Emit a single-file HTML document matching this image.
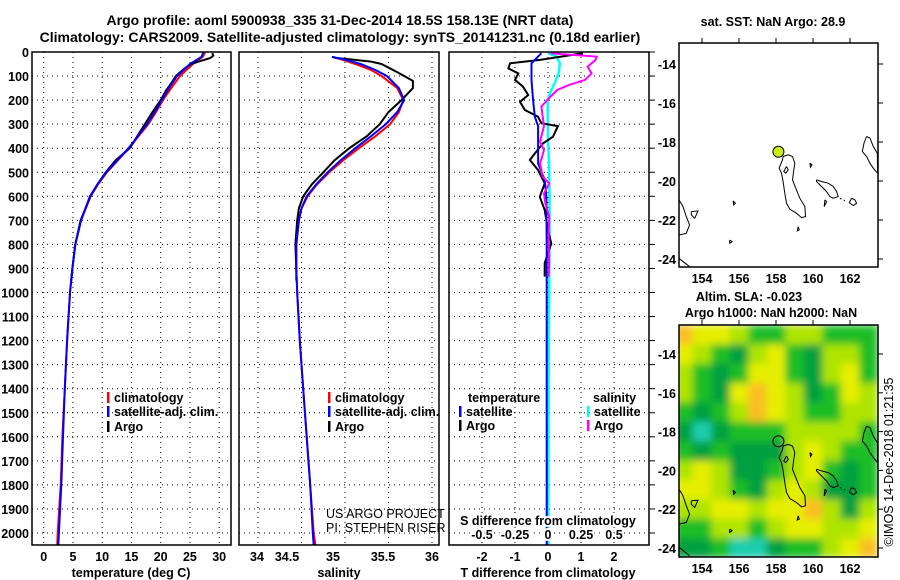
<!DOCTYPE html>
<html><head><meta charset="utf-8"><style>
body{margin:0;background:#fff;}
svg{display:block;font-family:"Liberation Sans",sans-serif;}
.t{font-weight:bold;font-size:12.5px;fill:#000;}
.g{stroke:#000;stroke-width:1;stroke-dasharray:1 4;}
</style></head><body>
<svg id="fig" width="900" height="580" viewBox="0 0 900 580">
<defs>
<clipPath id="cp1"><rect x="32" y="52" width="199" height="493"/></clipPath>
<clipPath id="cp2"><rect x="239" y="52" width="200" height="493"/></clipPath>
<clipPath id="cp3"><rect x="449" y="52" width="200" height="493"/></clipPath>
<clipPath id="cpm1"><rect x="679" y="43" width="199" height="224"/></clipPath>
<clipPath id="cpm2"><rect x="679" y="325" width="199" height="232"/></clipPath>
<filter id="blur" x="0" y="0" width="1" height="1" filterUnits="objectBoundingBox"><feGaussianBlur stdDeviation="4" edgeMode="duplicate"/></filter>
</defs>
<text class="t" x="340" y="25" text-anchor="middle" style="font-size:14px">Argo profile: aoml 5900938_335 31-Dec-2014 18.5S 158.13E (NRT data)</text>
<text class="t" x="340" y="42" text-anchor="middle" style="font-size:14px">Climatology: CARS2009. Satellite-adjusted climatology: synTS_20141231.nc (0.18d earlier)</text>
<g id="layer"></g>
</svg>
<script>
// ---- data ----
const depthTicks=[0,100,200,300,400,500,600,700,800,900,1000,1100,1200,1300,1400,1500,1600,1700,1800,1900,2000];
const tempTicks=[0,5,10,15,20,25,30];
const salTicks=[34,34.5,35,35.5,36];
const tdiffTicks=[-2,-1,0,1,2];
const sdiffTicks=[-0.5,-0.25,0,0.25,0.5];
const lonTicks=[154,156,158,160,162];
const latTicks=[-14,-16,-18,-20,-22,-24];

const climDepth=[0,20,50,100,150,200,250,300,350,400,450,500,550,600,700,800,900,1000,1200,1400,1600,1800,2000,2050];
const climT=[27.6,27.2,25.5,23.3,21.8,20.4,19.2,17.9,16.2,14.6,12.7,10.8,9.3,8.0,6.4,5.4,4.9,4.5,4.0,3.6,3.2,2.9,2.4,2.3];
const satT=[27.3,27.0,25.0,22.8,21.4,20.2,19.0,17.7,16.1,14.5,12.6,10.7,9.2,7.9,6.4,5.4,4.9,4.5,4.0,3.6,3.3,3.0,2.6,2.5];
const argoTDepth=[5,15,25,40,50,70,100,130,160,200,250,300,350,400,450,500,550,600,700,800,900,950];
const argoT=[28.8,29.0,28.5,26.5,25.2,24.0,22.6,21.8,20.9,20.0,18.6,17.3,16.0,14.7,12.3,10.6,9.2,8.0,6.3,5.4,4.9,4.7];

const salDepth=[20,30,50,75,100,150,200,250,300,350,400,450,500,550,600,650,700,800,900,1000,1200,1400,1600,1800,2000,2050];
const climS=[34.85,34.95,35.12,35.3,35.42,35.6,35.67,35.62,35.52,35.35,35.16,34.98,34.82,34.68,34.57,34.5,34.47,34.44,34.44,34.45,34.48,34.52,34.56,34.6,34.64,34.66];
const satS=[34.85,34.98,35.18,35.35,35.48,35.62,35.68,35.6,35.47,35.3,35.12,34.95,34.8,34.67,34.56,34.5,34.47,34.44,34.44,34.45,34.48,34.52,34.56,34.6,34.63,34.64];
const argoSDepth=[20,25,30,40,50,80,100,120,150,200,250,300,350,400,450,500,550,600,650,700,800,900,950];
const argoS=[34.85,34.9,35.05,35.3,35.42,35.58,35.68,35.78,35.78,35.65,35.5,35.4,35.25,35.05,34.88,34.75,34.62,34.52,34.47,34.45,34.43,34.44,34.44];

const dArgoDepth=[5,33,47,68,89,116,144,179,207,241,269,296,308,352,380,422,449,491,546,602,657,740,796,878,934];
const dArgoT=[1.06,-0.24,-1.15,-1.2,-0.9,-1.0,-0.76,-0.6,-0.85,-0.7,-0.3,-0.2,0.3,0.15,-0.15,-0.4,-0.55,-0.3,-0.1,-0.25,-0.1,0,0.1,-0.1,-0.1];
const dSatTDepth=[5,47,116,200,269,308,463,532,602,800,1200,1600,2050];
const dSatT=[-0.2,-0.5,-0.5,-0.45,-0.4,-0.3,-0.3,-0.1,-0.05,-0.04,-0.04,-0.04,-0.04];
const dSatSDepth=[5,19,47,89,130,165,200,269,366,463,602,800,1200,1600,2050];
const dSatS=[0,0.066,0.09,0.08,0.05,0.02,-0.002,-0.002,0,0.008,0.012,0.012,0.006,0.004,0.002];
const dArgoSDepth=[5,19,33,61,89,116,137,158,193,227,269,308,373,408,463,519,546,588,630,685,740,796,878,934];
const dArgoS=[0.02,0.37,0.36,0.3,0.33,0.28,0.16,0.07,0.005,-0.05,-0.04,-0.03,-0.06,-0.03,-0.06,-0.04,0.01,-0.03,-0.02,0.01,0.005,0.005,0.008,0.005];

const slaLats=[-13,-14,-15,-16,-17,-18,-19,-20,-21,-22,-23,-24];
const slaLons=[153,154,155,156,157,158,159,160,161,162,163];
const slaRows=[
[3,2,2,1,0,0,1,1,0,0,0],
[2,1,0,-1,1,2,0,-1,1,1,0],
[1,0,-1,0,2,2,0,-1,1,2,0],
[1,0,-1,2,3,2,1,-1,0,2,1],
[0,-1,0,1,3,2,1,0,0,1,1],
[-1,-2,-1,0,0,0,1,1,1,1,0],
[0,-1,0,-1,-1,-1,1,2,1,0,0],
[1,2,1,-1,-1,0,1,2,0,-1,0],
[2,2,1,0,-1,1,2,1,-1,-1,0],
[1,1,2,2,1,2,2,3,1,-1,1],
[0,0,1,1,0,1,2,2,1,1,2],
[-1,-1,0,-2,-2,-1,0,0,1,2,3]];
const argoLon=158.13, argoLat=-18.5;
const coastsRaw=[
[[430,470],[445,465],[458,470],[465,490],[462,510],[458,540],[470,570],[480,595],[495,620],[497,650],[485,653],[470,640],[450,628],[440,610],[435,580],[430,545],[425,520],[418,505],[428,480],[430,470]],
[[440,500],[445,510],[438,520],[432,515],[440,500]],
[[680,410],[690,415],[700,440],[712,460],[713,520],[700,505],[690,490],[680,470],[667,455],[672,430],[680,410]],
[[530,540],[545,545],[565,550],[580,560],[590,575],[595,590],[580,595],[570,590],[560,575],[545,560],[530,545],[530,540]],
[[555,600],[560,605],[553,620],[555,600]],[[600,595],[605,598]],[[612,600],[615,603]],
[[635,595],[645,600],[650,610],[640,617],[628,608],[635,595]],
[[510,490],[516,495],[512,502],[510,490]],[[280,603],[287,610],[282,615],[280,603]],
[[155,635],[175,633],[165,655],[155,645],[155,635]],
[[118,600],[130,620],[140,650],[150,675],[140,700],[118,705]],[[118,775],[150,800]],
[[270,720],[277,725],[270,730],[270,720]],[[475,680],[478,690],[472,693],[475,680]]];

// ---- drawing ----
const NS='http://www.w3.org/2000/svg';
const layer=document.getElementById('layer');
function el(tag,attrs,parent,txt){const e=document.createElementNS(NS,tag);for(const k in attrs)e.setAttribute(k,attrs[k]);if(txt!==undefined)e.textContent=txt;(parent||layer).appendChild(e);return e;}
const yD=d=>52+d*0.2405;
const xT=t=>43.7+t*5.85;
const xS=s=>258+(s-34)*87;
const xTd=t=>548+t*33;
const xSd=s=>548+s*132;
const mLon=lon=>702+(lon-154)*18.5;
const m1Lat=lat=>64+(-14-lat)*19.5;
const m2Lat=lat=>354+(-14-lat)*19.4;

function panel(name){
  const g=el('g',{});
  
  
  return g;
}
function hgrid(g,x0,x1){depthTicks.forEach(d=>{const l=el('line',{x1:x0,x2:x1,y1:yD(d),y2:yD(d),class:'g'},g);});}
function vgrid(g,x){const l=el('line',{x1:x,x2:x,y1:52,y2:545,class:'g'},g);}
function line(g,xs,ds,fx,color,name,clip,w){
  const pts=xs.map((v,i)=>fx(v).toFixed(1)+','+yD(ds[i]).toFixed(1)).join(' ');
  const p=el('polyline',{points:pts,fill:'none',stroke:color,'stroke-width':w||2,'clip-path':'url(#'+clip+')'},g);
  
  
}
function txt(g,x,y,s,anchor,name,extra){const t=el('text',Object.assign({x:x,y:y,class:'t','text-anchor':anchor||'start'},extra||{}),g,s);return t;}
function legendEntry(g,x,y,color,label){
  const r=el('rect',{x:x,y:y-10,width:2.5,height:11,fill:color},g);
  
  
  txt(g,x+7,y,label,'start','legend-entry');
}

const ya=el('g',{});
depthTicks.forEach(d=>txt(ya,29,yD(d)+5,String(d),'end','depth-tick-label'));

// Panel 1 temperature
const p1=panel('temperature-panel');
hgrid(p1,32,231);tempTicks.forEach(t=>{vgrid(p1,xT(t));txt(p1,xT(t),561,String(t),'middle','temp-tick-label');});
line(p1,climT,climDepth,xT,'#ff0000','temp-climatology-line','cp1');
line(p1,argoT,argoTDepth,xT,'#000000','temp-argo-line','cp1');
line(p1,satT,climDepth,xT,'#0000ff','temp-satellite-line','cp1');
el('rect',{x:32,y:52,width:199,height:493,fill:'none',stroke:'#000','stroke-width':1.5},p1);
txt(p1,131,577,'temperature (deg C)','middle','x-axis-title-temperature');
legendEntry(p1,107,402,'#ff0000','climatology');
legendEntry(p1,107,416,'#0000ff','satellite-adj. clim.');
legendEntry(p1,107,431,'#000000','Argo');

// Panel 2 salinity
const p2=panel('salinity-panel');
hgrid(p2,239,439);salTicks.forEach(s=>vgrid(p2,xS(s)));
const salLabelX=[257,287,333,383,432];
salTicks.forEach((s,i)=>txt(p2,salLabelX[i],561,String(s),'middle','salinity-tick-label'));
line(p2,climS,salDepth,xS,'#ff0000','sal-climatology-line','cp2');
line(p2,argoS,argoSDepth,xS,'#000000','sal-argo-line','cp2');
line(p2,satS,salDepth,xS,'#0000ff','sal-satellite-line','cp2');
el('rect',{x:239,y:52,width:200,height:493,fill:'none',stroke:'#000','stroke-width':1.5},p2);
txt(p2,339,577,'salinity','middle','x-axis-title-salinity');
legendEntry(p2,328,402,'#ff0000','climatology');
legendEntry(p2,328,416,'#0000ff','satellite-adj. clim.');
legendEntry(p2,328,431,'#000000','Argo');
txt(p2,326,518,'US ARGO PROJECT','start','project-credit',{style:'font-weight:normal;font-size:12.5px'});
txt(p2,326,532,'PI: STEPHEN RISER','start','pi-credit',{style:'font-weight:normal;font-size:12.5px'});

// Panel 3 differences
const p3=panel('difference-panel');
hgrid(p3,449,649);tdiffTicks.forEach(t=>vgrid(p3,xTd(t)));
line(p3,dSatS,dSatSDepth,xSd,'#00ffff','sdiff-satellite-line','cp3',2.5);
line(p3,dArgoT,dArgoDepth,xTd,'#000000','tdiff-argo-line','cp3');
line(p3,dSatT,dSatTDepth,xTd,'#0000ff','tdiff-satellite-line','cp3');
line(p3,dArgoS,dArgoSDepth,xSd,'#ff00ff','sdiff-argo-line','cp3');
el('rect',{x:449,y:52,width:200,height:493,fill:'none',stroke:'#000','stroke-width':1.5},p3);
depthTicks.forEach(d=>el('line',{x1:649,x2:655,y1:yD(d),y2:yD(d),stroke:'#000'},p3));
txt(p3,548,525,'S difference from climatology','middle','s-diff-axis-title',{stroke:'#fff','stroke-width':4,'paint-order':'stroke'});
sdiffTicks.forEach(s=>txt(p3,xSd(s),539,String(s),'middle','s-diff-tick-label',{stroke:'#fff','stroke-width':4,'paint-order':'stroke'}));
tdiffTicks.forEach(t=>txt(p3,xTd(t),561,String(t),'middle','t-diff-tick-label'));
txt(p3,548,577,'T difference from climatology','middle','t-diff-axis-title');
txt(p3,468,402,'temperature','start','legend-title-temperature');
legendEntry(p3,459,416,'#0000ff','satellite');
legendEntry(p3,459,430,'#000000','Argo');
txt(p3,593,402,'salinity','start','legend-title-salinity');
legendEntry(p3,587,416,'#00ffff','satellite');
legendEntry(p3,587,430,'#ff00ff','Argo');

// Maps
function coastLine(g,fLat,clip){
  coastsRaw.forEach(c=>{
    const pts=c.map(p=>{const lon=154+(p[0]-187)/55.4, lat=-14-(p[1]-193)/58.4;return mLon(lon).toFixed(1)+','+fLat(lat).toFixed(1);}).join(' ');
    const pl=el('polyline',{points:pts,fill:'none',stroke:'#000','stroke-width':1,'clip-path':'url(#'+clip+')'},g);
    
    
  });
}
function mapAxes(g,y0,y1,fLat,labelY){
  lonTicks.forEach(l=>{el('line',{x1:mLon(l),x2:mLon(l),y1:y0,y2:y0-5,stroke:'#000'},g);txt(g,mLon(l),labelY,String(l),'middle','lon-tick-label');});
  latTicks.forEach(l=>{el('line',{x1:878,x2:883,y1:fLat(l),y2:fLat(l),stroke:'#000'},g);txt(g,676,fLat(l)+5,String(l),'end','lat-tick-label');});
}
const m1=el('g',{});
txt(m1,773,26,'sat. SST: NaN Argo: 28.9','middle','sst-map-title');
coastLine(m1,m1Lat,'cpm1');
const dot=el('circle',{cx:mLon(argoLon),cy:m1Lat(argoLat),r:5.5,fill:'#ccee11',stroke:'#000','stroke-width':1},m1);

el('rect',{x:679,y:43,width:199,height:224,fill:'none',stroke:'#000','stroke-width':1.5},m1);
mapAxes(m1,43,267,m1Lat,283);

const m2=el('g',{});
txt(m2,749,301,'Altim. SLA: -0.023','middle','sla-map-title');
txt(m2,771,317,'Argo h1000: NaN h2000: NaN','middle','sla-map-subtitle');
const cols=[[30,205,175],[0,160,65],[30,190,40],[175,228,5],[230,238,0],[250,190,35]];
const col=v=>{const c=cols[Math.max(0,Math.min(5,v+2))];return 'rgb('+c.join(',')+')';};
const hc=el('g',{'clip-path':'url(#cpm2)'},m2);
const hg=el('g',{filter:'url(#blur)'},hc);
slaRows.forEach((row,i)=>row.forEach((v,j)=>{
  const x0=mLon(slaLons[j]-0.5),x1=mLon(slaLons[j]+0.5),y0=m2Lat(slaLats[i]+0.5),y1=m2Lat(slaLats[i]-0.5);
  const r=el('rect',{x:x0,y:y0,width:x1-x0+0.5,height:y1-y0+0.5,fill:col(v)},hg);
  
  
}));
coastLine(m2,m2Lat,'cpm2');
const ring=el('circle',{cx:mLon(argoLon),cy:m2Lat(argoLat),r:5.5,fill:'none',stroke:'#000','stroke-width':1},m2);

el('rect',{x:679,y:325,width:199,height:232,fill:'none',stroke:'#000','stroke-width':1.5},m2);
mapAxes(m2,325,557,m2Lat,573);
txt(m2,893,462,'©IMOS 14-Dec-2018 01:21:35','middle','imos-timestamp',{transform:'rotate(-90 893 462)',style:'font-weight:normal;font-size:12.5px'});
</script>
</body></html>
